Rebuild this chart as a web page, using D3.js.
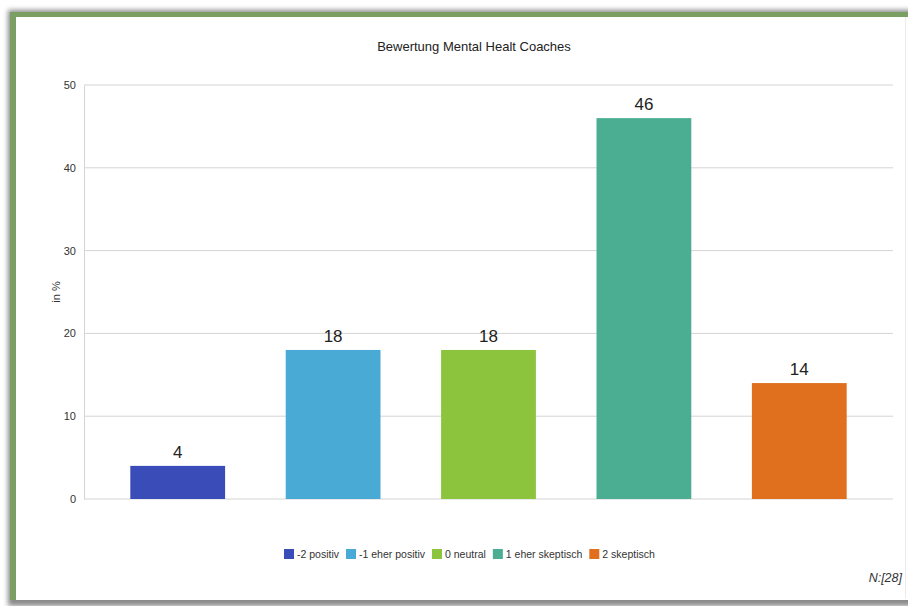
<!DOCTYPE html>
<html>
<head>
<meta charset="utf-8">
<script src="https://cdn.jsdelivr.net/npm/d3@7"></script>
<style>
  html, body { margin: 0; padding: 0; background: #ffffff; }
  svg { display: block; }
</style>
</head>
<body>
<svg id="chart" width="908" height="606"></svg>
<script>
// Survey answers: rating of mental health coaches
const categories = ["-2 positiv", "-1 eher positiv", "0 neutral", "1 eher skeptisch", "2 skeptisch"];
const values = [4, 18, 18, 46, 14];
const colors = ["#3a4cb8", "#4aaad6", "#8cc43e", "#4bae93", "#e0701e"];
const yTicks = [0, 10, 20, 30, 40, 50];
const title = "Bewertung Mental Healt Coaches";
const yLabel = "in %";
const sampleNote = "N:[28]";

const svg = d3.select("#chart");
const font = "Liberation Sans, Arial, sans-serif";

// Card frame: soft grey shadow underneath, green edge on the left and top
const defs = svg.append("defs");
const blur = defs.append("filter").attr("id", "soft")
  .attr("x", "-5%").attr("y", "-5%").attr("width", "110%").attr("height", "110%");
blur.append("feGaussianBlur").attr("stdDeviation", 2.5);

svg.append("rect").attr("x", 8).attr("y", 10).attr("width", 910).attr("height", 596)
  .attr("fill", "#8a8a8a").attr("filter", "url(#soft)");
svg.append("rect").attr("x", 10).attr("y", 12).attr("width", 910).attr("height", 588)
  .attr("fill", "#7b9e62");
svg.append("rect").attr("x", 16).attr("y", 17).attr("width", 900).attr("height", 583)
  .attr("fill", "#ffffff");
svg.append("line").attr("x1", 905.5).attr("x2", 905.5).attr("y1", 17).attr("y2", 598)
  .attr("stroke", "#ececec");

// Plot geometry
const plot = { left: 84, right: 893, top: 85, bottom: 499 };

const y = d3.scaleLinear().domain([0, 50]).range([plot.bottom, plot.top]);
const x = d3.scaleBand().domain(categories).range([100, 877]).paddingInner(0.39).paddingOuter(0.195);

// Gridlines
svg.append("g")
  .selectAll("line")
  .data(yTicks)
  .join("line")
  .attr("x1", plot.left).attr("x2", plot.right)
  .attr("y1", d => y(d)).attr("y2", d => y(d))
  .attr("stroke", "#d4d4d4").attr("stroke-width", 1);

// Y axis
const yAxis = d3.axisLeft(y).tickValues(yTicks).tickSize(0).tickPadding(8);
const gy = svg.append("g").attr("transform", `translate(${plot.left},0)`).call(yAxis);
gy.select(".domain").attr("stroke", "#d4d4d4");
gy.selectAll("text").attr("font-family", font)
  .attr("font-size", 11).attr("fill", "#333");

svg.append("text")
  .attr("transform", `translate(60,${(plot.top + plot.bottom) / 2}) rotate(-90)`)
  .attr("text-anchor", "middle")
  .attr("font-family", font)
  .attr("font-size", 11).attr("fill", "#333")
  .text(yLabel);

// Bars
svg.append("g")
  .selectAll("rect")
  .data(values)
  .join("rect")
  .attr("x", (d, i) => x(categories[i]))
  .attr("width", x.bandwidth())
  .attr("y", d => y(d))
  .attr("height", d => y(0) - y(d))
  .attr("fill", (d, i) => colors[i]);

// Value labels
svg.append("g")
  .selectAll("text")
  .data(values)
  .join("text")
  .attr("x", (d, i) => x(categories[i]) + x.bandwidth() / 2)
  .attr("y", d => y(d) - 8)
  .attr("text-anchor", "middle")
  .attr("font-family", font)
  .attr("font-size", 17).attr("fill", "#222")
  .text(d => d);

// Title
svg.append("text")
  .attr("x", 474).attr("y", 51)
  .attr("text-anchor", "middle")
  .attr("font-family", font)
  .attr("font-size", 13).attr("fill", "#222")
  .text(title);

// Legend
const legend = svg.append("g").attr("font-family", font).attr("font-size", 10.5);
let lx = 284;
categories.forEach((c, i) => {
  const g = legend.append("g").attr("transform", `translate(${lx},549)`);
  g.append("rect").attr("width", 10).attr("height", 10).attr("fill", colors[i]);
  const t = g.append("text").attr("x", 13).attr("y", 9).attr("fill", "#333").text(c);
  lx += 13 + t.node().getComputedTextLength() + 7;
});

// Sample size note
svg.append("text")
  .attr("x", 902).attr("y", 582)
  .attr("text-anchor", "end")
  .attr("font-family", font)
  .attr("font-style", "italic")
  .attr("font-size", 12.5).attr("fill", "#333")
  .text(sampleNote);
</script>
</body>
</html>
